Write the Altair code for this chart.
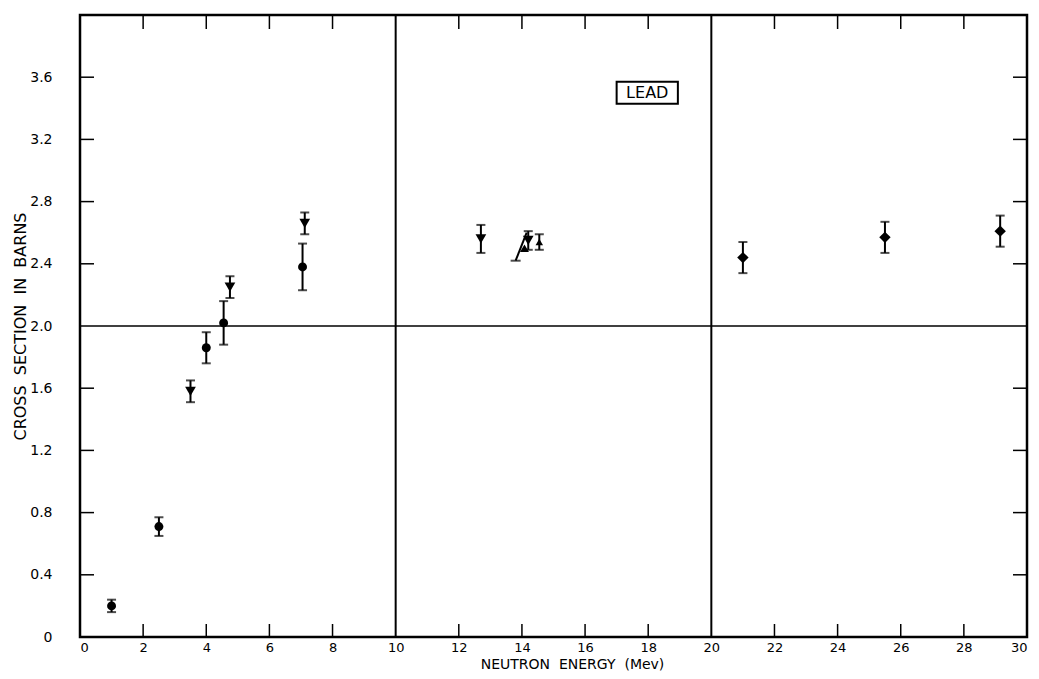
import altair as alt
import pandas as pd

# ---- data ----
circ_x = [1.0, 2.5, 4.0, 4.55, 7.05]
circ_y = [0.20, 0.71, 1.86, 2.02, 2.38]
circ_e = [0.04, 0.06, 0.10, 0.14, 0.15]

tri_x = [3.5, 4.75, 7.12, 12.7, 14.2]
tri_y = [1.58, 2.25, 2.66, 2.56, 2.55]
tri_e = [0.07, 0.07, 0.07, 0.09, 0.06]

triup_x = [14.55]
triup_y = [2.54]
triup_e = [0.05]

slant_pt_x = [14.08]
slant_pt_y = [2.50]
slant_x0 = [13.8]
slant_y0 = [2.42]
slant_x1 = [14.15]
slant_y1 = [2.60]

dia_x = [21.0, 25.5, 29.15]
dia_y = [2.44, 2.57, 2.61]
dia_e = [0.10, 0.10, 0.10]

x_ticks = [0, 2, 4, 6, 8, 10, 12, 14, 16, 18, 20, 22, 24, 26, 28, 30]
y_ticks = [0, 0.4, 0.8, 1.2, 1.6, 2.0, 2.4, 2.8, 3.2, 3.6]
x_minor = [2, 4, 6, 8, 12, 14, 16, 18, 22, 24, 26, 28]
y_minor = [0.4, 0.8, 1.2, 1.6, 2.4, 2.8, 3.2, 3.6]
v_lines = [10, 20]
h_lines = [2.0]

NB = "\u00a0"
x_title = f"NEUTRON{NB}{NB}ENERGY{NB}{NB}(Mev)"
y_title = f"CROSS{NB}{NB}SECTION{NB}{NB}IN{NB}{NB}BARNS"

label_text = ["LEAD"]
label_x = [17.97]
label_y = [3.50]
box_x0 = [17.0]
box_x1 = [18.94]
box_y0 = [3.43]
box_y1 = [3.57]

W, H = 947, 622
FONT = "DejaVu Sans"

xs = alt.Scale(domain=[0, 30], nice=False, zero=False)
ys = alt.Scale(domain=[0, 4.0], nice=False, zero=False)


def pts(xv, yv, ev):
    return pd.DataFrame({"x": xv, "y": yv, "lo": [a - b for a, b in zip(yv, ev)],
                         "hi": [a + b for a, b in zip(yv, ev)]})


circ = pts(circ_x, circ_y, circ_e)
tri = pts(tri_x, tri_y, tri_e)
triup = pts(triup_x, triup_y, triup_e)
dia = pts(dia_x, dia_y, dia_e)
allerr = pd.concat([circ, tri, triup, dia], ignore_index=True)

# base layer with axes
base = alt.Chart(pd.DataFrame({"x": [0], "y": [0]})).mark_point(opacity=0).encode(
    x=alt.X("x:Q", scale=xs,
            axis=alt.Axis(values=x_ticks, tickSize=0, domain=False, grid=False,
                          labelPadding=4, labelFontSize=13, labelFont=FONT,
                          labelColor="black", format="d",
                          title=x_title, titleFont=FONT,
                          titleFontSize=14, titleFontWeight="normal", titleColor="black",
                          titleX=492, titleY=27, titleBaseline="middle",
                          titleAnchor="middle")),
    y=alt.Y("y:Q", scale=ys,
            axis=alt.Axis(values=y_ticks, tickSize=0, domain=False, grid=False,
                          labelPadding=28, labelFontSize=14, labelFont=FONT,
                          labelColor="black",
                          labelExpr="datum.value == 0 ? '0' : format(datum.value, '.1f')",
                          title=y_title, titleFont=FONT,
                          titleFontSize=16, titleFontWeight="normal", titleColor="black",
                          titleX=-60, titleY=311, titleBaseline="middle",
                          titleAnchor="middle")),
)

vl = alt.Chart(pd.DataFrame({"x": v_lines})).mark_rule(color="black", strokeWidth=2).encode(
    x=alt.X("x:Q", scale=xs), y=alt.value(0), y2=alt.value(H))
hl = alt.Chart(pd.DataFrame({"y": h_lines})).mark_rule(color="black", strokeWidth=1.5).encode(
    y=alt.Y("y:Q", scale=ys), x=alt.value(0), x2=alt.value(W))

xt = pd.DataFrame({"x": x_minor})
yt = pd.DataFrame({"y": y_minor})
tb = alt.Chart(xt).mark_rule(color="black", strokeWidth=1.5).encode(
    x=alt.X("x:Q", scale=xs), y=alt.value(H), y2=alt.value(H - 13))
tt = alt.Chart(xt).mark_rule(color="black", strokeWidth=1.5).encode(
    x=alt.X("x:Q", scale=xs), y=alt.value(0), y2=alt.value(14))
tl = alt.Chart(yt).mark_rule(color="black", strokeWidth=1.5).encode(
    y=alt.Y("y:Q", scale=ys), x=alt.value(0), x2=alt.value(14))
tr = alt.Chart(yt).mark_rule(color="black", strokeWidth=1.5).encode(
    y=alt.Y("y:Q", scale=ys), x=alt.value(W), x2=alt.value(W - 14))

err = alt.Chart(allerr).mark_rule(color="black", strokeWidth=2).encode(
    x=alt.X("x:Q", scale=xs), y=alt.Y("lo:Q", scale=ys), y2="hi:Q")
cap_lo = alt.Chart(allerr).mark_tick(color="black", orient="horizontal", size=9, thickness=2).encode(
    x=alt.X("x:Q", scale=xs), y=alt.Y("lo:Q", scale=ys))
cap_hi = alt.Chart(allerr).mark_tick(color="black", orient="horizontal", size=9, thickness=2).encode(
    x=alt.X("x:Q", scale=xs), y=alt.Y("hi:Q", scale=ys))

slant = alt.Chart(pd.DataFrame({"x0": slant_x0, "y0": slant_y0, "x1": slant_x1, "y1": slant_y1})).mark_rule(
    color="black", strokeWidth=2).encode(
    x=alt.X("x0:Q", scale=xs), y=alt.Y("y0:Q", scale=ys), x2="x1:Q", y2="y1:Q")
slant_cap = alt.Chart(pd.DataFrame({"x": slant_x0, "y": slant_y0})).mark_tick(
    color="black", orient="horizontal", size=10, thickness=2).encode(
    x=alt.X("x:Q", scale=xs), y=alt.Y("y:Q", scale=ys))


def sym(df, shape, size):
    return alt.Chart(df).mark_point(shape=shape, size=size, filled=True, color="black", opacity=1).encode(
        x=alt.X("x:Q", scale=xs), y=alt.Y("y:Q", scale=ys))


m_c = sym(circ, "circle", 80)
m_t = sym(tri, "triangle-down", 115)
m_u = sym(triup, "triangle-up", 55)
m_s = sym(pd.DataFrame({"x": slant_pt_x, "y": slant_pt_y}), "triangle-up", 80)
m_d = sym(dia, "diamond", 130)

box = alt.Chart(pd.DataFrame({"x0": box_x0, "x1": box_x1, "y0": box_y0, "y1": box_y1})).mark_rect(
    fill="white", stroke="black", strokeWidth=2).encode(
    x=alt.X("x0:Q", scale=xs), x2="x1:Q", y=alt.Y("y0:Q", scale=ys), y2="y1:Q")
txt = alt.Chart(pd.DataFrame({"t": label_text, "x": label_x, "y": label_y})).mark_text(
    font=FONT, fontSize=16, color="black", align="center", baseline="middle").encode(
    x=alt.X("x:Q", scale=xs), y=alt.Y("y:Q", scale=ys), text="t:N")

chart = alt.layer(base, vl, hl, tb, tt, tl, tr, err, cap_lo, cap_hi, slant, slant_cap,
                  m_c, m_t, m_u, m_s, m_d, box, txt).properties(
    width=W, height=H,
    autosize=alt.AutoSizeParams(type="none"),
    padding={"left": 72, "top": 7, "right": 4, "bottom": 34},
    background="white",
).configure_view(stroke="black", strokeWidth=2.5)

chart.save("out.html", embed_options={"renderer": "svg", "actions": False})
